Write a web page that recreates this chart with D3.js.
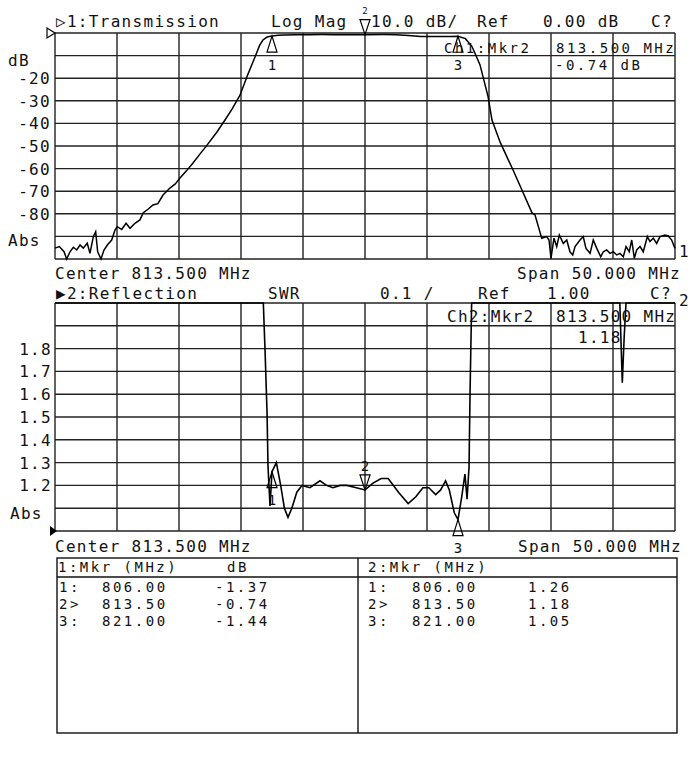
<!DOCTYPE html>
<html><head><meta charset="utf-8">
<script src="https://cdn.jsdelivr.net/npm/d3@7"></script>
<style>
body{margin:0;background:#fff;}
text{font-family:"DejaVu Sans Mono",monospace;font-size:16px;fill:#111;letter-spacing:1.3px;}
</style></head>
<body>
<svg id="c" width="700" height="758"></svg>
<script>
// ---- data ----
const CENTER = 813.5, SPAN = 50;
const transFreq = [788.50,788.85,789.23,789.44,789.71,789.98,790.25,790.52,790.78,791.10,791.32,791.59,791.78,791.94,792.21,792.45,792.72,793.07,793.34,793.52,793.88,794.23,794.55,794.95,795.35,795.62,796.00,796.40,796.80,797.21,797.77,798.20,798.58,799.10,799.63,800.20,800.76,801.56,802.21,802.80,803.42,804.00,804.63,805.00,805.27,805.60,806.00,806.50,807.00,808.00,809.00,810.00,811.00,812.00,813.50,815.00,816.00,817.00,818.00,819.00,820.00,820.50,821.00,821.60,822.13,822.77,823.42,823.74,824.39,825.00,825.44,826.20,826.97,827.21,827.50,827.75,828.15,828.34,828.50,828.74,828.96,829.17,829.49,829.77,830.03,830.25,830.44,830.84,831.10,831.32,831.65,831.91,832.19,832.51,832.72,832.99,833.26,833.52,833.80,834.06,834.33,834.55,834.81,835.01,835.22,835.41,835.68,835.94,836.27,836.48,836.75,837.02,837.29,837.69,837.96,838.23,838.50];
const transDb = [-95.2,-94.5,-96.8,-100,-96.8,-94.8,-96.0,-93.8,-95.2,-93.0,-97.5,-90.1,-87.9,-96.8,-100,-96.0,-93.8,-91.6,-87.2,-85.7,-86.9,-84.2,-86.4,-84.2,-82.7,-79.5,-78.0,-76.1,-75.5,-71.7,-68.6,-66.8,-64.2,-61.0,-57.5,-53.5,-49.6,-43.8,-38.5,-33.5,-27.5,-19.0,-10.6,-5.5,-3.1,-1.8,-1.37,-1.00,-0.85,-0.75,-0.72,-0.70,-0.72,-0.76,-0.74,-0.70,-0.75,-1.10,-1.50,-1.60,-1.60,-1.50,-1.44,-2.50,-6.0,-14.0,-28.0,-38.5,-48.2,-55.5,-60.6,-70.0,-79.6,-80.5,-86.0,-90.8,-90.1,-91.6,-99.7,-90.8,-94.5,-89.4,-93.1,-91.6,-96.8,-98.2,-94.5,-91.6,-90.1,-95.3,-97.5,-91.6,-95.3,-99.0,-96.8,-96.0,-97.5,-96.8,-98.2,-97.5,-99.0,-94.5,-96.8,-91.6,-99.7,-96.0,-94.5,-96.8,-90.1,-92.3,-90.8,-93.1,-90.1,-89.4,-89.8,-91.6,-95.3];
const reflFreq = [788.50,805.20,805.30,805.44,805.60,805.68,805.84,806.00,806.35,806.70,807.00,807.29,807.60,808.00,808.42,809.06,809.87,810.40,810.92,811.50,812.05,812.80,813.50,814.15,814.80,815.37,816.20,816.98,817.60,818.17,818.65,819.20,819.60,820.00,820.30,820.70,821.00,821.30,821.56,821.73,821.89,821.97,822.10,822.20,833.90,834.05,834.25,834.40,834.55,838.50];
const reflSwr = [2.5,2.5,2.0,1.79,1.52,1.28,1.11,1.26,1.30,1.20,1.10,1.06,1.10,1.17,1.20,1.19,1.22,1.20,1.19,1.20,1.20,1.19,1.18,1.21,1.23,1.23,1.17,1.12,1.15,1.19,1.19,1.16,1.18,1.22,1.18,1.08,1.05,1.15,1.25,1.14,1.28,1.60,2.0,2.5,2.5,2.0,1.65,1.85,2.5,2.5];
const markerFreq = [806.00, 813.50, 821.00];
const markerDb = [-1.37, -0.74, -1.44];
const markerSwr = [1.26, 1.18, 1.05];
const markerRowLabels = ["1:", "2>", "3:"];
const markerFreqText = ["806.00", "813.50", "821.00"];
const markerDbText = ["-1.37", "-0.74", "-1.44"];
const markerSwrText = ["1.26", "1.18", "1.05"];
const dbTicks = [-20,-30,-40,-50,-60,-70,-80];
const swrTicks = [1.2,1.3,1.4,1.5,1.6,1.7,1.8];

// ---- scales ----
const svg = d3.select("#c");
const x = d3.scaleLinear().domain([CENTER-SPAN/2, CENTER+SPAN/2]).range([55,675]);
const yT = d3.scaleLinear().domain([-100,0]).range([259,33]).clamp(true);
const yB = d3.scaleLinear().domain([1,2]).range([531,303]).clamp(true);
const vLines = d3.range(0,11).map(i => CENTER-SPAN/2 + i*SPAN/10);

function grid(y, hVals){
  const g = svg.append("g").attr("stroke","#222").attr("stroke-width",1.4);
  g.selectAll("line.v").data(vLines).join("line")
    .attr("x1",d=>x(d)).attr("x2",d=>x(d)).attr("y1",y.range()[1]).attr("y2",y.range()[0]);
  g.selectAll("line.h").data(hVals).join("line")
    .attr("x1",55).attr("x2",675).attr("y1",d=>y(d)).attr("y2",d=>y(d));
}
grid(yT, d3.range(0,11).map(i=>-i*10));
grid(yB, d3.range(0,11).map(i=>1+i*0.1));

function txt(s,xx,yy,opts={}){
  const t = svg.append("text").attr("x",xx).attr("y",yy).text(s);
  if(opts.anchor) t.attr("text-anchor",opts.anchor);
  if(opts.size) t.style("font-size",opts.size+"px");
  if(opts.ls!==undefined) t.style("letter-spacing",opts.ls+"px");
  return t;
}

// traces
const lineT = d3.line().x((d,i)=>x(transFreq[i])).y(d=>yT(d));
svg.append("path").attr("d",lineT(transDb)).attr("fill","none").attr("stroke","#000").attr("stroke-width",1.5);
const lineB = d3.line().x((d,i)=>x(reflFreq[i])).y(d=>yB(d));
svg.append("path").attr("d",lineB(reflSwr)).attr("fill","none").attr("stroke","#000").attr("stroke-width",1.6);

// reference position markers
svg.append("path").attr("d","M47,28 L55,33 L47,38 Z").attr("fill","#fff").attr("stroke","#000").attr("stroke-width",1.2);
svg.append("path").attr("d","M50,526 L57,531 L50,536 Z").attr("fill","#000");

// markers
function upTri(cx, cy){ return `M${cx},${cy} L${cx-5},${cy+16} L${cx+5},${cy+16} Z`; }
function downTri(cx, cy){ return `M${cx},${cy} L${cx-5},${cy-15} L${cx+5},${cy-15} Z`; }
markerFreq.forEach((f,i)=>{
  const cx = x(f);
  if(i===1){
    svg.append("path").attr("d",downTri(cx,yT(markerDb[i]))).attr("fill","none").attr("stroke","#000").attr("stroke-width",1.2);
    txt(String(i+1), cx, 14, {anchor:"middle", size:9, ls:0});
  } else {
    svg.append("path").attr("d",upTri(cx,yT(markerDb[i]))).attr("fill","none").attr("stroke","#000").attr("stroke-width",1.2);
    txt(String(i+1), cx, 70, {anchor:"middle", size:14, ls:0});
  }
  const by = yB(markerSwr[i]);
  if(i===1){
    svg.append("path").attr("d",downTri(cx,by)).attr("fill","none").attr("stroke","#000").attr("stroke-width",1.2);
    txt(String(i+1), cx, by-19, {anchor:"middle", size:14, ls:0});
  } else {
    svg.append("path").attr("d",upTri(cx,by)).attr("fill","none").attr("stroke","#000").attr("stroke-width",1.2);
    txt(String(i+1), cx, by+33, {anchor:"middle", size:14, ls:0});
  }
});

const TS = {size:14, ls:2.5};
// top header
txt("▷1:Transmission", 56, 27);
txt("Log Mag", 271, 27);
txt("10.0 dB/", 371, 27);
txt("Ref", 477, 27);
txt("0.00 dB", 543, 27);
txt("C?", 651, 27);
txt("Ch1:Mkr2", 444, 53, TS);
txt("813.500 MHz", 556, 53, TS);
txt("-0.74 dB", 555, 70, TS);
txt("dB", 8, 66);
dbTicks.forEach(v=>txt(String(v), 51, yT(v)+6, {anchor:"end"}));
txt("Abs", 8, 246);
txt("Center 813.500 MHz", 55, 279);
txt("Span 50.000 MHz", 517, 279);
txt("1", 679, 257, {ls:0});

// bottom header
txt("▶2:Reflection", 56, 299);
txt("SWR", 268, 299);
txt("0.1 /", 380, 299);
txt("Ref", 478, 299);
txt("1.00", 547, 299);
txt("C?", 650, 299);
txt("2", 679, 306, {ls:0});
txt("Ch2:Mkr2", 447, 322);
txt("813.500 MHz", 556, 322);
txt("1.18", 578, 343);
swrTicks.forEach(v=>txt(v.toFixed(1), 52, yB(v)+6, {anchor:"end"}));
txt("Abs", 10, 519);
txt("Center 813.500 MHz", 55, 552);
txt("Span 50.000 MHz", 518, 552);

// table
const tb = svg.append("g").attr("fill","none").attr("stroke","#111").attr("stroke-width",1.4);
tb.append("rect").attr("x",57).attr("y",558).attr("width",620).attr("height",175);
tb.append("line").attr("x1",358).attr("x2",358).attr("y1",558).attr("y2",733);
tb.append("line").attr("x1",57).attr("x2",677).attr("y1",577).attr("y2",577);
txt("1:Mkr (MHz)", 58, 572, TS);
txt("dB", 227, 572, TS);
txt("2:Mkr (MHz)", 368, 572, TS);
const rowY = [592, 609, 626];
markerRowLabels.forEach((r,i)=>{
  txt(r, 59, rowY[i], TS);
  txt(markerFreqText[i], 102, rowY[i], TS);
  txt(markerDbText[i], 215, rowY[i], TS);
  txt(r, 368, rowY[i], TS);
  txt(markerFreqText[i], 412, rowY[i], TS);
  txt(markerSwrText[i], 528, rowY[i], TS);
});
</script>
</body></html>
